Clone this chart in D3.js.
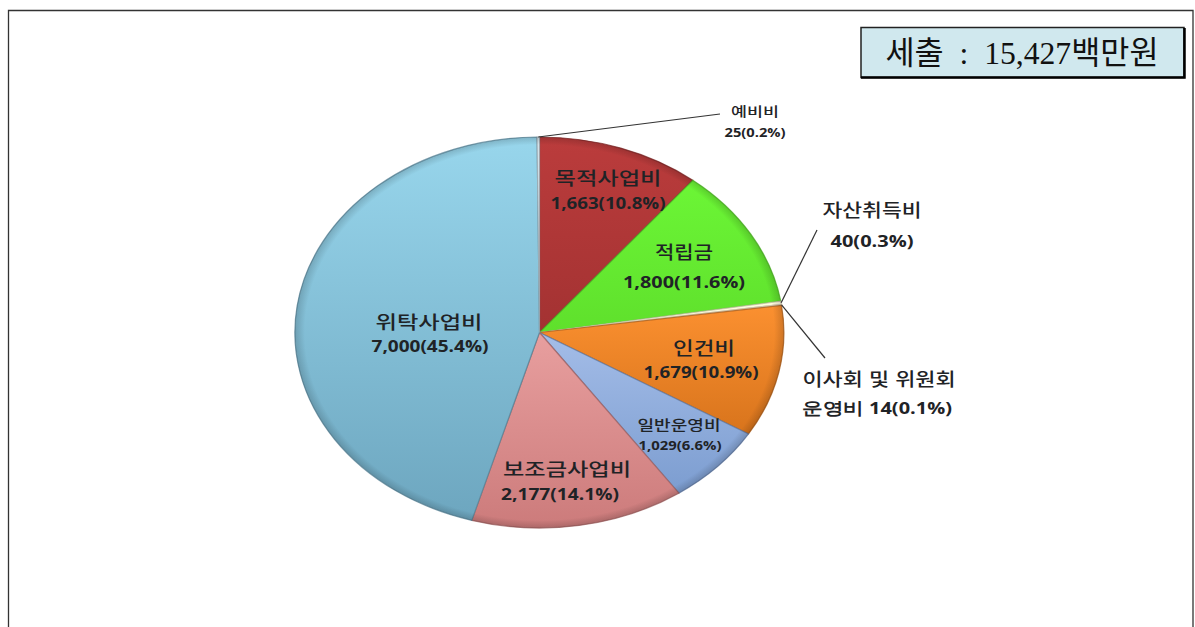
<!DOCTYPE html>
<html lang="ko">
<head>
<meta charset="utf-8">
<title>세출 구성</title>
<script src="https://cdn.jsdelivr.net/npm/d3@7"></script>
<style>
  html, body { margin: 0; padding: 0; background: #fff; overflow: hidden; }
  svg { display: block; }
  text { text-anchor: middle; dominant-baseline: central; fill: #1f2326; font-family: "Noto Sans CJK KR", "Noto Sans", sans-serif; }
  .name { font-weight: 500; }
  .amount { font-family: "Open Sans", "Noto Sans", sans-serif; font-weight: 700; }
  .title { font-family: "Liberation Serif", "Noto Sans CJK KR", serif; fill: #111; }
</style>
</head>
<body>
<svg id="chart" width="1195" height="627"></svg>
<script>
// values, clockwise from 12 o'clock
const categories = ['목적사업비', '적립금', '자산취득비', '이사회 및 위원회', '인건비', '일반운영비', '보조금사업비', '위탁사업비', '예비비'];
const values = [1663, 1800, 40, 14, 1679, 1029, 2177, 7000, 25];
const amountLabels = ['1,663(10.8%)', '1,800(11.6%)', '40(0.3%)', '운영비 14(0.1%)', '1,679(10.9%)', '1,029(6.6%)', '2,177(14.1%)', '7,000(45.4%)', '25(0.2%)'];
const topColors = ['#bb3c3c', '#6cf636', '#fffde0', '#fff6e0', '#fb9030', '#a4bde8', '#e89f9f', '#98d6ec', '#d8e8f0'];
const bottomColors = ['#a33232', '#5fe02c', '#fff8d8', '#ffeed0', '#d8741c', '#7c9dd0', '#cc7b7b', '#6da6bf', '#c8d8e0'];
const titleText = '세출 \u00a0:\u00a0 15,427백만원';

// layout of the text: [name x, name y, name width, amount x, amount y, amount width, name size, amount size]
const labelLayout = [
  [608, 177, 107, 608, 203, 115, 18, 16],
  [684, 251, 58, 684, 281, 122, 18, 16.5],
  [872, 209, 99, 872, 240, 83, 18, 16.5],
  [879, 378, 153, 877, 407, 150, 18, 16.5],
  [704, 347, 62, 701, 372, 115, 18, 16],
  [679, 424, 83, 680, 445, 83, 14, 12],
  [567, 468, 128, 560, 493, 118, 18, 16.5],
  [429, 321, 107, 430, 346, 117, 18, 16],
  [755, 110, 48, 755, 132, 61, 13, 12]
];
// outer ends of the leader lines, by category
const leaderEnds = { '자산취득비': [817, 230], '이사회 및 위원회': [825, 358], '예비비': [720, 114] };

const cx = 539.5, cy = 332.5, rx = 244.5, ry = 195.5;

const svg = d3.select('#chart');
const defs = svg.append('defs');

// outer frame, open at the bottom
svg.append('path')
  .attr('d', d3.line()([[8.5, 627], [8.5, 10.5], [1193, 10.5], [1193, 627]]))
  .attr('fill', 'none')
  .attr('stroke', '#333')
  .attr('stroke-width', 1.3);

// title box
svg.append('rect')
  .attr('x', 861).attr('y', 27.5).attr('width', 323).attr('height', 50)
  .attr('fill', '#d0e8ee')
  .attr('stroke', '#222')
  .attr('stroke-width', 1.5);
svg.append('path')
  .attr('d', d3.line()([[861, 77.5], [1184.5, 77.5], [1184.5, 28]]))
  .attr('fill', 'none')
  .attr('stroke', '#000')
  .attr('stroke-width', 2.5);
svg.append('text')
  .attr('class', 'title')
  .attr('x', 1022).attr('y', 53)
  .attr('font-size', 32)
  .attr('textLength', 273)
  .attr('lengthAdjust', 'spacingAndGlyphs')
  .text(titleText);

// each slice gets its own vertical gradient, then a thin dark rim on top
const pie = d3.pie().sort(null).value((d) => d);
const arcData = pie(values);
const arc = d3.arc().innerRadius(0).outerRadius(1);

categories.forEach((c, i) => {
  let g = defs.append('linearGradient')
    .attr('id', 'slice' + i)
    .attr('x1', 0).attr('y1', 0).attr('x2', 0).attr('y2', 1);
  g.append('stop').attr('offset', '0%').attr('stop-color', topColors[i]);
  g.append('stop').attr('offset', '100%').attr('stop-color', bottomColors[i]);
});

let rim = defs.append('radialGradient')
  .attr('id', 'rim')
  .attr('gradientUnits', 'userSpaceOnUse')
  .attr('cx', 0).attr('cy', 0).attr('r', 1);
rim.append('stop').attr('offset', '96%').attr('stop-color', '#000').attr('stop-opacity', 0);
rim.append('stop').attr('offset', '100%').attr('stop-color', '#000').attr('stop-opacity', 0.16);

const pieGroup = svg.append('g')
  .attr('transform', `translate(${cx},${cy}) scale(${rx},${ry})`);

pieGroup.selectAll('path.slice')
  .data(arcData)
  .join('path')
  .attr('class', 'slice')
  .attr('d', arc)
  .attr('fill', (d, i) => `url(#slice${i})`)
  .attr('stroke', (d, i) => d3.color(bottomColors[i]).darker(0.7))
  .attr('stroke-width', 1.2)
  .attr('stroke-opacity', 0.75)
  .attr('vector-effect', 'non-scaling-stroke');

pieGroup.selectAll('path.rim')
  .data(arcData)
  .join('path')
  .attr('class', 'rim')
  .attr('d', arc)
  .attr('fill', 'url(#rim)');

// leader lines start on the rim at the middle of their slice
arcData.forEach((d, i) => {
  let end = leaderEnds[categories[i]];
  if (!end) return;
  let mid = (d.startAngle + d.endAngle) / 2;
  svg.append('line')
    .attr('x1', cx + rx * Math.sin(mid))
    .attr('y1', cy - ry * Math.cos(mid))
    .attr('x2', end[0])
    .attr('y2', end[1])
    .attr('stroke', '#333')
    .attr('stroke-width', 1.2);
});

// labels
categories.forEach((c, i) => {
  let l = labelLayout[i];
  svg.append('text')
    .attr('class', 'name')
    .attr('x', l[0]).attr('y', l[1])
    .attr('font-size', l[6])
    .attr('textLength', l[2])
    .attr('lengthAdjust', 'spacingAndGlyphs')
    .text(c);
  svg.append('text')
    .attr('class', 'amount')
    .attr('x', l[3]).attr('y', l[4])
    .attr('font-size', l[7])
    .attr('textLength', l[5])
    .attr('lengthAdjust', 'spacingAndGlyphs')
    .text(amountLabels[i]);
});
</script>
</body>
</html>
